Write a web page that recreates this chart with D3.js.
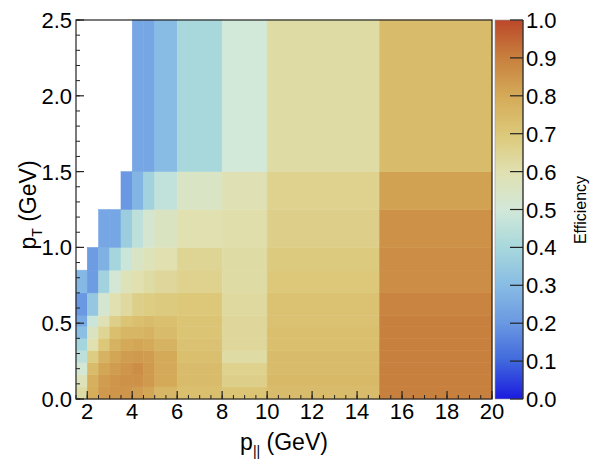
<!DOCTYPE html>
<html>
<head>
<meta charset="utf-8">
<script src="https://cdn.jsdelivr.net/npm/d3@7"></script>
<style>
  html, body { margin: 0; padding: 0; background: #fff; }
  svg { display: block; font-family: "Liberation Sans", Arial, sans-serif; }
</style>
</head>
<body>
<svg id="chart" width="593" height="466"></svg>
<script>
// ---- Data ----
const xEdges = [1.5, 2, 2.5, 3, 3.5, 4, 4.5, 5, 6, 8, 10, 15, 20];
const yEdges = [0, 0.08, 0.16, 0.24, 0.32, 0.40, 0.48, 0.55, 0.7, 0.85, 1.0, 1.25, 1.5, 2.5];
// efficiency per (pT bin row, p|| bin column); rows from low pT to high pT, null = empty
const row0  = [0.62, 0.79, 0.84, 0.85, 0.85, 0.83, 0.81, 0.76, 0.73, 0.71, 0.74, 0.90];
const row1  = [0.58, 0.78, 0.83, 0.85, 0.86, 0.86, 0.84, 0.80, 0.74, 0.67, 0.75, 0.90];
const row2  = [0.51, 0.74, 0.81, 0.83, 0.85, 0.87, 0.84, 0.80, 0.74, 0.66, 0.74, 0.90];
const row3  = [0.45, 0.68, 0.77, 0.81, 0.83, 0.84, 0.83, 0.80, 0.73, 0.62, 0.74, 0.90];
const row4  = [0.39, 0.60, 0.70, 0.77, 0.80, 0.81, 0.80, 0.77, 0.72, 0.64, 0.73, 0.90];
const row5  = [0.31, 0.56, 0.65, 0.73, 0.76, 0.76, 0.77, 0.74, 0.71, 0.64, 0.73, 0.90];
const row6  = [0.25, 0.48, 0.59, 0.67, 0.71, 0.73, 0.74, 0.73, 0.71, 0.64, 0.72, 0.90];
const row7  = [0.20, 0.34, 0.52, 0.60, 0.63, 0.67, 0.68, 0.69, 0.70, 0.63, 0.72, 0.89];
const row8  = [0.29, 0.21, 0.38, 0.51, 0.58, 0.60, 0.62, 0.64, 0.66, 0.62, 0.70, 0.87];
const row9  = [null, 0.21, 0.27, 0.39, 0.48, 0.55, 0.58, 0.60, 0.65, 0.62, 0.69, 0.87];
const row10 = [null, null, 0.24, 0.24, 0.36, 0.45, 0.52, 0.56, 0.60, 0.61, 0.67, 0.86];
const row11 = [null, null, null, null, 0.20, 0.28, 0.38, 0.46, 0.55, 0.59, 0.66, 0.82];
const row12 = [null, null, null, null, null, 0.24, 0.24, 0.30, 0.40, 0.50, 0.62, 0.74];
const rows = [row0, row1, row2, row3, row4, row5, row6, row7, row8, row9, row10, row11, row12];

const xTickValues = [2, 4, 6, 8, 10, 12, 14, 16, 18, 20];
const yTickValues = [0, 0.5, 1.0, 1.5, 2.0, 2.5];
const zTickValues = [0, 0.1, 0.2, 0.3, 0.4, 0.5, 0.6, 0.7, 0.8, 0.9, 1.0];
const colorStops = [0, 0.1, 0.2, 0.3, 0.4, 0.5, 0.6, 0.7, 0.8, 0.9, 1.0];
const colorHex = ["#1a1ae0", "#4068dc", "#6a98e2", "#88bce4", "#a8d8dc", "#d2e8d8",
                  "#e0e0b0", "#dcc878", "#d4aa58", "#c8803e", "#bc482a"];

// ---- Layout ----
const L = 76, R = 492, T = 20, B = 399;
const CB_L = 495, CB_R = 523;
const svg = d3.select("#chart");

const x = d3.scaleLinear().domain([1.5, 20]).range([L, R]);
const y = d3.scaleLinear().domain([0, 2.5]).range([B, T]);
const color = d3.scaleLinear().domain(colorStops).range(colorHex).interpolate(d3.interpolateRgb).clamp(true);

// ---- Cells ----
const cells = [];
rows.forEach((r, i) => r.forEach((v, j) => {
  if (v !== null) cells.push({x0: xEdges[j], x1: xEdges[j + 1], y0: yEdges[i], y1: yEdges[i + 1], v});
}));
svg.append("g").selectAll("rect").data(cells).join("rect")
  .attr("x", d => x(d.x0))
  .attr("y", d => y(d.y1))
  .attr("width", d => x(d.x1) - x(d.x0))
  .attr("height", d => y(d.y0) - y(d.y1))
  .attr("fill", d => color(d.v))
  .attr("stroke", d => color(d.v))
  .attr("stroke-width", 0.5);

// ---- Axes ----
const fontSize = 22;
const xMinor = d3.range(1.5, 20.001, 0.5);
const yMinor = d3.range(0, 2.5001, 0.1);

const gx = svg.append("g");
gx.selectAll("line.minor").data(xMinor).join("line")
  .attr("x1", d => x(d)).attr("x2", d => x(d)).attr("y1", B).attr("y2", B - 4)
  .attr("stroke", "#222").attr("stroke-width", 1);
gx.selectAll("line.major").data(xTickValues).join("line")
  .attr("x1", d => x(d)).attr("x2", d => x(d)).attr("y1", B).attr("y2", B - 8)
  .attr("stroke", "#222").attr("stroke-width", 1.2);
gx.selectAll("text").data(xTickValues).join("text")
  .attr("x", d => x(d)).attr("y", B + 20)
  .attr("text-anchor", "middle").attr("font-size", fontSize).attr("fill", "#000")
  .text(d => d3.format("d")(d));

const gy = svg.append("g");
gy.selectAll("line.minor").data(yMinor).join("line")
  .attr("y1", d => y(d)).attr("y2", d => y(d)).attr("x1", L).attr("x2", L + 4)
  .attr("stroke", "#222").attr("stroke-width", 1);
gy.selectAll("line.major").data(yTickValues).join("line")
  .attr("y1", d => y(d)).attr("y2", d => y(d)).attr("x1", L).attr("x2", L + 8)
  .attr("stroke", "#222").attr("stroke-width", 1.2);
gy.selectAll("text").data(yTickValues).join("text")
  .attr("x", L - 4).attr("y", d => y(d) + 8)
  .attr("text-anchor", "end").attr("font-size", fontSize).attr("fill", "#000")
  .text(d => d3.format(".1f")(d));

// frame
svg.append("rect").attr("x", L).attr("y", T).attr("width", R - L).attr("height", B - T)
  .attr("fill", "none").attr("stroke", "#222").attr("stroke-width", 1.2);

// axis titles
const xt = svg.append("text").attr("x", 284).attr("y", 450)
  .attr("text-anchor", "middle").attr("font-size", 23).attr("fill", "#000");
xt.append("tspan").text("p");
xt.append("tspan").attr("dy", 6).attr("font-size", 14).text("||");
xt.append("tspan").attr("dy", -6).text(" (GeV)");

const yt = svg.append("text").attr("transform", "translate(36,205) rotate(-90)")
  .attr("text-anchor", "middle").attr("font-size", 23).attr("fill", "#000");
yt.append("tspan").text("p");
yt.append("tspan").attr("dy", 6).attr("font-size", 14).text("T");
yt.append("tspan").attr("dy", -6).text(" (GeV)");

// ---- Colorbar ----
const defs = svg.append("defs");
const grad = defs.append("linearGradient").attr("id", "cbgrad")
  .attr("x1", "0").attr("y1", "1").attr("x2", "0").attr("y2", "0");
grad.selectAll("stop").data(d3.range(0, 1.0001, 0.02)).join("stop")
  .attr("offset", d => d).attr("stop-color", d => color(d));
const z = d3.scaleLinear().domain([0, 1]).range([B, T]);
svg.append("rect").attr("x", CB_L).attr("y", T).attr("width", CB_R - CB_L).attr("height", B - T)
  .attr("fill", "url(#cbgrad)").attr("stroke", "#999").attr("stroke-width", 0.6);
svg.append("line").attr("x1", CB_R).attr("x2", CB_R).attr("y1", T).attr("y2", B)
  .attr("stroke", "#222").attr("stroke-width", 1.2);
svg.append("g").selectAll("line").data(zTickValues).join("line")
  .attr("x1", CB_R - 13).attr("x2", CB_R).attr("y1", d => z(d)).attr("y2", d => z(d))
  .attr("stroke", "#222").attr("stroke-width", 1.2);
svg.append("g").selectAll("text").data(zTickValues).join("text")
  .attr("x", CB_R + 3).attr("y", d => z(d) + 8)
  .attr("font-size", fontSize).attr("fill", "#000")
  .text(d => d3.format(".1f")(d));
svg.append("text").attr("transform", "translate(586,210) rotate(-90)")
  .attr("text-anchor", "middle").attr("font-size", 16).attr("fill", "#000")
  .text("Efficiency");
</script>
</body>
</html>
